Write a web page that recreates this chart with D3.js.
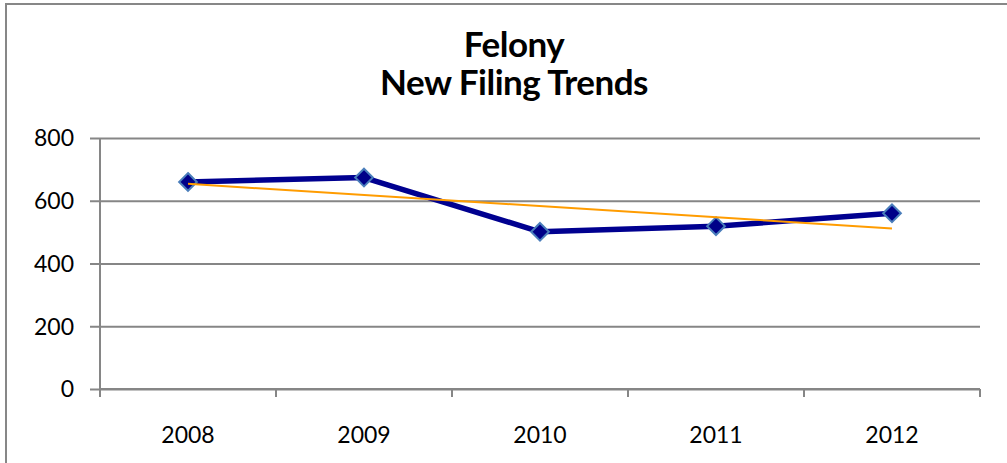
<!DOCTYPE html>
<html>
<head>
<meta charset="utf-8">
<script src="https://cdn.jsdelivr.net/npm/d3@7"></script>
<style>
  body { margin: 0; background: #fff; }
  svg { display: block; font-family: Lato, "Open Sans", sans-serif; }
</style>
</head>
<body>
<svg id="chart" width="1007" height="463"></svg>
<script>
// chart data
const years = ["2008", "2009", "2010", "2011", "2012"];
const filings = [660, 674, 501, 519, 560];
const yTicks = [0, 200, 400, 600, 800];
const titleLines = ["Felony", "New Filing Trends"];

const svg = d3.select("#chart");
const W = 1007, H = 463;
const margin = { left: 100, right: 27, top: 138, bottom: 74 };

// outer frame (cut off at right/bottom like the source)
svg.append("rect")
    .attr("x", 6).attr("y", 4)
    .attr("width", W + 10).attr("height", H - 2)
    .attr("fill", "none")
    .attr("stroke", "#878787")
    .attr("stroke-width", 2);

const x = d3.scaleBand()
    .domain(years)
    .range([margin.left, W - margin.right]);

const y = d3.scaleLinear()
    .domain([0, 800])
    .range([H - margin.bottom, margin.top]);

const GREY = "#868686";

// gridlines + y ticks
const yAxis = d3.axisLeft(y)
    .tickValues(yTicks)
    .tickSize(-(W - margin.right - margin.left))
    .tickSizeOuter(0)
    .tickPadding(0)
    .tickFormat("");

const gy = svg.append("g")
    .attr("transform", `translate(${margin.left},0)`)
    .call(yAxis);
gy.select(".domain").remove();
gy.selectAll(".tick line")
    .attr("x1", -10)
    .attr("stroke", GREY)
    .attr("stroke-width", 2);

// y labels
svg.append("g")
    .selectAll("text")
    .data(yTicks)
    .join("text")
    .attr("x", 74)
    .attr("y", d => y(d))
    .attr("dy", "0.36em")
    .attr("text-anchor", "end")
    .attr("font-size", "23px")
    .attr("fill", "#000")
    .text(d => d);

// y axis line
svg.append("line")
    .attr("x1", margin.left).attr("x2", margin.left)
    .attr("y1", y(800)).attr("y2", y(0))
    .attr("stroke", GREY).attr("stroke-width", 2);

// x axis with ticks on band edges
const edges = years.map(d => x(d)).concat([x.range()[1]]);
svg.append("line")
    .attr("x1", margin.left).attr("x2", W - margin.right)
    .attr("y1", y(0)).attr("y2", y(0))
    .attr("stroke", GREY).attr("stroke-width", 2);
svg.append("g")
    .selectAll("line")
    .data(edges)
    .join("line")
    .attr("x1", d => d).attr("x2", d => d)
    .attr("y1", y(0)).attr("y2", y(0) + 8)
    .attr("stroke", GREY).attr("stroke-width", 2);

svg.append("g")
    .selectAll("text")
    .data(years)
    .join("text")
    .attr("x", d => x(d) + x.bandwidth() / 2)
    .attr("y", 443)
    .attr("text-anchor", "middle")
    .attr("font-size", "23px")
    .attr("fill", "#000")
    .text(d => d);

// title
svg.append("g")
    .selectAll("text")
    .data(titleLines)
    .join("text")
    .attr("x", 514)
    .attr("y", (d, i) => 57 + i * 38)
    .attr("text-anchor", "middle")
    .attr("font-size", "35px")
    .attr("font-weight", "bold")
    .attr("letter-spacing", "-0.5px")
    .attr("fill", "#000")
    .text(d => d);

const cx = d => x(d) + x.bandwidth() / 2;

// series line
const line = d3.line()
    .x((d, i) => cx(years[i]))
    .y(d => y(d));

svg.append("path")
    .datum(filings)
    .attr("d", line)
    .attr("fill", "none")
    .attr("stroke", "#000090")
    .attr("stroke-width", 5.5)
    .attr("stroke-linejoin", "round");

// diamond markers
svg.append("g")
    .selectAll("path")
    .data(filings)
    .join("path")
    .attr("d", d3.symbol().type(d3.symbolDiamond2).size(200))
    .attr("transform", (d, i) => `translate(${cx(years[i])},${y(d)})`)
    .attr("fill", "#000088")
    .attr("stroke", "#4a7ebb")
    .attr("stroke-width", 2);

// linear trendline (least squares over the series)
const xs = filings.map((d, i) => i + 1);
const mx = d3.mean(xs), my = d3.mean(filings);
const slope = d3.sum(xs, (v, i) => (v - mx) * (filings[i] - my)) / d3.sum(xs, v => (v - mx) ** 2);
const icpt = my - slope * mx;
const trend = [1, xs.length].map(v => ({ xi: v, v: icpt + slope * v }));

svg.append("path")
    .datum(trend)
    .attr("d", d3.line().x(d => cx(years[d.xi - 1])).y(d => y(d.v)))
    .attr("fill", "none")
    .attr("stroke", "#ff9c00")
    .attr("stroke-width", 2);
</script>
</body>
</html>
